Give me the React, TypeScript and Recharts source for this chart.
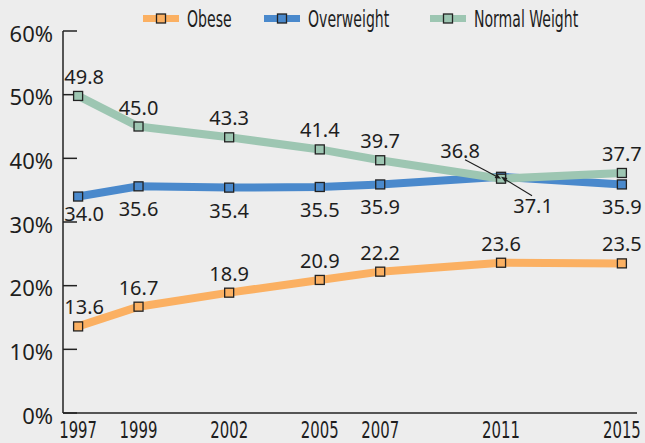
import { LineChart, Line, XAxis, YAxis, LabelList } from "recharts";

const years = [1997, 1999, 2002, 2005, 2007, 2011, 2015];
const obese = [13.6, 16.7, 18.9, 20.9, 22.2, 23.6, 23.5];
const overweight = [34.0, 35.6, 35.4, 35.5, 35.9, 37.1, 35.9];
const normalWeight = [49.8, 45.0, 43.3, 41.4, 39.7, 36.8, 37.7];
const yTicks = [0, 10, 20, 30, 40, 50, 60];

// tick marks sit between the years, labels sit on the years
const yearMarks = Array.from({ length: 20 }, (_, i) => 1996.5 + i);

const data = years.map((year, i) => ({
  year,
  obese: obese[i],
  overweight: overweight[i],
  normal: normalWeight[i],
}));

const CONDENSED = "'Liberation Sans Narrow', 'DejaVu Sans Condensed', sans-serif";
const LABEL_FONT = "'Noto Sans', 'Open Sans', sans-serif";
const INK = "#1e1e1e";
const BG = "#ededed";

type Side = "above" | "below";

const SERIES: {
  key: "obese" | "overweight" | "normal";
  name: string;
  color: string;
  side: Side;
  // 2011 labels are pulled away from the crossing with a leader line
  callout?: { dx: number; dy: number; lx: number; ly: number };
}[] = [
  { key: "obese", name: "Obese", color: "#fbb062", side: "above" },
  {
    key: "overweight",
    name: "Overweight",
    color: "#4a89cc",
    side: "below",
    callout: { dx: 32, dy: 36, lx: 31, ly: 19 },
  },
  {
    key: "normal",
    name: "Normal Weight",
    color: "#9dc6b2",
    side: "above",
    callout: { dx: -41, dy: -21, lx: -36, ly: -19 },
  },
];

const CALLOUT_INDEX = years.indexOf(2011);

function Arrow({ x1, y1, x2, y2 }: { x1: number; y1: number; x2: number; y2: number }) {
  const ang = Math.atan2(y2 - y1, x2 - x1);
  const len = 6;
  const w = 2.4;
  const bx = x2 - Math.cos(ang) * len;
  const by = y2 - Math.sin(ang) * len;
  const px = -Math.sin(ang) * w;
  const py = Math.cos(ang) * w;
  return (
    <g>
      <line x1={x1} y1={y1} x2={bx} y2={by} stroke={INK} strokeWidth={1.1} />
      <polygon
        points={`${x2},${y2} ${bx + px},${by + py} ${bx - px},${by - py}`}
        fill={INK}
      />
    </g>
  );
}

function makeLabel(s: (typeof SERIES)[number]) {
  return (props: any) => {
    const { x, y, value, index } = props;
    if (x == null || y == null) return null;
    let dx = index === 0 ? 6 : 0;
    let dy = s.side === "above" ? -12 : index === 0 ? 24 : 30;
    let leader = null;
    if (s.callout && index === CALLOUT_INDEX) {
      dx = s.callout.dx;
      dy = s.callout.dy;
      leader = <Arrow x1={x + s.callout.lx} y1={y + s.callout.ly} x2={x} y2={y} />;
    }
    return (
      <g key={`${s.key}-${index}`}>
        {leader}
        <text
          x={x + dx}
          y={y + dy}
          textAnchor="middle"
          fontFamily={LABEL_FONT}
          fontSize={20}
          fill={INK}
        >
          {Number(value).toFixed(1)}
        </text>
      </g>
    );
  };
}

function makeDot(color: string) {
  return (props: any) => {
    const { cx, cy, index } = props;
    return (
      <rect
        key={index}
        x={cx - 4.5}
        y={cy - 4.5}
        width={9}
        height={9}
        fill={color}
        stroke="#222"
        strokeWidth={1.3}
      />
    );
  };
}

function YearTick(props: any) {
  const { x, y, payload } = props;
  return (
    <g transform={`translate(${x},${y + 7})`}>
      <text
        transform="scale(0.72,1)"
        textAnchor="middle"
        dy="0.72em"
        fontFamily={CONDENSED}
        fontSize={23}
        fill={INK}
      >
        {payload.value}
      </text>
    </g>
  );
}

const LEGEND_X = [143, 264, 430];

function Legend() {
  return (
    <svg
      width={645}
      height={40}
      style={{ position: "absolute", left: 0, top: 0 }}
    >
      {SERIES.map((s, i) => (
        <g key={s.key} transform={`translate(${LEGEND_X[i]},0)`}>
          <rect x={0} y={15} width={36} height={7} fill={s.color} />
          <rect x={13.5} y={14} width={9} height={9} fill={s.color} stroke="#222" strokeWidth={1.3} />
          <g transform="translate(44,27)">
            <text transform="scale(0.68,1)" fontFamily={CONDENSED} fontSize={23} fill={INK}>
              {s.name}
            </text>
          </g>
        </g>
      ))}
    </svg>
  );
}

export default function App() {
  return (
    <div
      style={{
        position: "absolute",
        left: 0,
        top: 0,
        width: 645,
        height: 443,
        background: BG,
      }}
    >
      <LineChart
        width={645}
        height={443}
        data={data}
        margin={{ top: 31, right: 8, bottom: 0, left: 0 }}
      >
        <XAxis
          xAxisId={0}
          dataKey="year"
          type="number"
          domain={[1996.5, 2015.5]}
          ticks={yearMarks}
          interval={0}
          allowDataOverflow
          height={1}
          tick={false}
          tickSize={-9}
          axisLine={{ stroke: "#222", strokeWidth: 1.5 }}
          tickLine={{ stroke: "#222", strokeWidth: 1.5 }}
        />
        <XAxis
          xAxisId="lab"
          dataKey="year"
          type="number"
          domain={[1996.5, 2015.5]}
          ticks={years}
          interval={0}
          allowDataOverflow
          height={29}
          axisLine={false}
          tickLine={false}
          tickSize={0}
          tickMargin={0}
          tick={<YearTick />}
        />
        <YAxis
          type="number"
          domain={[0, 60]}
          ticks={yTicks}
          interval={0}
          width={63}
          tickSize={-14}
          tickMargin={24}
          tickFormatter={(v) => `${v}%`}
          tick={{ fill: INK, fontSize: 22, fontFamily: LABEL_FONT, dy: 3 }}
          axisLine={{ stroke: "#222", strokeWidth: 1.5 }}
          tickLine={{ stroke: "#222", strokeWidth: 1.5 }}
        />
        {SERIES.map((s) => (
          <Line
            key={s.key}
            dataKey={s.key}
            name={s.name}
            type="linear"
            stroke={s.color}
            strokeWidth={8}
            dot={makeDot(s.color)}
            activeDot={false}
            isAnimationActive={false}
          >
            <LabelList dataKey={s.key} content={makeLabel(s)} />
          </Line>
        ))}
      </LineChart>
      <Legend />
    </div>
  );
}
